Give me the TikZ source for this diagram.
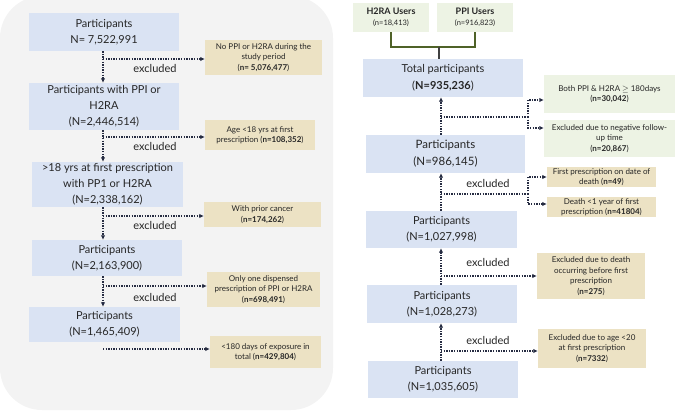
\documentclass[tikz,border=0pt]{standalone}
\usepackage{fontspec}
\setmainfont{Lato}
\usetikzlibrary{arrows.meta,positioning}
\definecolor{azulcaja}{RGB}{218,227,243}
\definecolor{tancaja}{RGB}{236,226,196}
\definecolor{verdecaja}{RGB}{237,243,228}
\definecolor{grispanel}{RGB}{243,243,243}
\definecolor{azulosc}{RGB}{38,44,66}
\definecolor{texto}{RGB}{38,38,38}
\definecolor{verdeosc}{RGB}{79,98,40}
\definecolor{grisosc}{RGB}{64,64,64}
\begin{document}
\begin{tikzpicture}
[x=1pt,y=-1pt,
 caja/.style={fill=azulcaja,text=texto,align=center,inner sep=0pt,font=\fontsize{11}{16}\selectfont},
 excl/.style={fill=tancaja,text=texto,align=center,inner sep=0pt,font=\fontsize{8}{10.5}\selectfont},
 exclv/.style={excl,fill=verdecaja},
 usuarios/.style={exclv,font=\fontsize{7.5}{11}\selectfont},
 etiq/.style={text=texto,inner sep=0pt,font=\fontsize{11}{13}\selectfont},
 flecha/.style={draw=azulosc,line width=1.4pt,dash pattern=on 1.4pt off 1.2pt,-{Latex[length=4.5pt,width=4.5pt]}},
 linea/.style={flecha,-},
 llave/.style={draw=verdeosc,line width=1.6pt}]
\useasboundingbox (0,0) rectangle (676,412);
\fill[grispanel,rounded corners=42pt] (0,-4) rectangle (333,410);
% left column
\node (izq1) [caja,minimum width=150,minimum height=38] at (104,32) {Participants\\N= 7,522,991};
\node (izq2) [caja,minimum width=150,minimum height=47] at (104,106.5) {Participants with PPI or\\H2RA\\(N=2,446,514)};
\node (izq3) [caja,minimum width=151,minimum height=45] at (107.5,184.5) {>18 yrs at first prescription\\with PP1 or H2RA\\(N=2,338,162)};
\node (izq4) [caja,minimum width=150,minimum height=36] at (107,258) {Participants\\(N=2,163,900)};
\node (izq5) [caja,minimum width=151,minimum height=35] at (104.5,324.5) {Participants\\(N=1,465,409)};
\node (exc1) [excl,minimum width=117,minimum height=35] at (263.5,57.5) {No PPI or H2RA during the\\study period\\(\textbf{n= 5,076,477})};
\node (exc2) [excl,minimum width=110,minimum height=30] at (260,135) {Age <18 yrs at first\\prescription (\textbf{n=108,352})};
\node (exc3) [excl,minimum width=117,minimum height=25] at (262.5,214.5) {With prior cancer\\(\textbf{n=174,262})};
\node (exc4) [excl,minimum width=113,minimum height=35] at (263.5,289.5) {Only one dispensed\\prescription of PPI or H2RA\\(\textbf{n=698,491})};
\node (exc5) [excl,minimum width=111,minimum height=32] at (265.5,352) {<180 days of exposure in\\total (\textbf{n=429,804})};
\node (lab1) [etiq] at (155,68) {excluded};
\node (lab2) [etiq] at (155,146) {excluded};
\node (lab3) [etiq] at (155,225) {excluded};
\node (lab4) [etiq] at (155,297) {excluded};
\coordinate (ejeI) at (103,0);
\coordinate (r1) at (103,59);
\coordinate (r2) at (103,137);
\coordinate (r3) at (103,216);
\coordinate (r4) at (103,286);
\coordinate (r5) at (103,349);
\draw[flecha] (izq1.south -| ejeI) -- (izq2.north -| ejeI);
\draw[flecha] (izq2.south -| ejeI) -- (izq3.north -| ejeI);
\draw[flecha] (izq3.south -| ejeI) -- (izq4.north -| ejeI);
\draw[flecha] (izq4.south -| ejeI) -- (izq5.north -| ejeI);
\draw[flecha] (r1) -- (r1 -| exc1.west);
\draw[flecha] (r2) -- (r2 -| exc2.west);
\draw[flecha] (r3) -- (r3 -| exc3.west);
\draw[flecha] (r4) -- (r4 -| exc4.west);
\draw[flecha] (r5) -- (r5 -| exc5.west);
% right column
\node (h2ra) [usuarios,minimum width=76,minimum height=29] at (391,17.5) {{\fontsize{9}{11}\selectfont\textbf{H2RA Users}}\\(n=18,413)};
\node (ppi) [usuarios,minimum width=76,minimum height=29] at (475,17.5) {{\fontsize{9}{11}\selectfont\textbf{PPI Users}}\\(n=916,823)};
\node (total) [caja,minimum width=160,minimum height=38,font=\fontsize{11}{17}\selectfont] at (443,78) {Total participants\\(\textbf{N=935,236})};
\node (der2) [caja,minimum width=159,minimum height=38,font=\fontsize{11.5}{17}\selectfont] at (445.5,154) {Participants\\(N=986,145)};
\node (der3) [caja,minimum width=151,minimum height=37] at (441.5,229.5) {Participants\\(N=1,027,998)};
\node (der4) [caja,minimum width=150,minimum height=38] at (442,304) {Participants\\(N=1,028,273)};
\node (der5) [caja,minimum width=150,minimum height=37] at (443,379.5) {Participants\\(N=1,035,605)};
\node (excd1) [exclv,minimum width=131,minimum height=38] at (609.5,94) {Both PPI \& H2RA $\geq$ 180days\\(\textbf{n=30,042})};
\node (excd2) [exclv,minimum width=131,minimum height=37] at (609.5,138.5) {Excluded due to negative follow-\\up time\\(\textbf{n=20,867})};
\node (excd3) [excl,minimum width=109,minimum height=20] at (601.5,177) {First prescription on date of\\death (\textbf{n=49})};
\node (excd4) [excl,minimum width=109,minimum height=20] at (601.5,207) {Death <1 year of first\\prescription (\textbf{n=41804})};
\node (excd5) [excl,minimum width=108,minimum height=46] at (591,276) {Excluded due to death\\occurring before first\\prescription\\(\textbf{n=275})};
\node (excd6) [excl,minimum width=108,minimum height=39] at (592,348.5) {Excluded due to age <20\\at first prescription\\(\textbf{n=7332})};
\node (lab5) [etiq] at (488,183) {excluded};
\node (lab6) [etiq] at (488,262) {excluded};
\node (lab7) [etiq] at (488,340) {excluded};
\draw[llave] (h2ra.south) -- ++(0,15) -| (ppi.south);
\coordinate (union) at (439,47);
\draw[draw=grisosc,line width=1.6pt] (union) -- (union |- total.north);
\coordinate (ejeD) at (441,0);
\coordinate (rd1) at (441,117);
\coordinate (bd1) at (528,117);
\coordinate (rd2) at (441,194);
\coordinate (bd2) at (528,194);
\coordinate (rd3) at (441,276);
\coordinate (rd4) at (441,351);
\draw[flecha] (der2.north -| ejeD) -- (total.south -| ejeD);
\draw[flecha] (der3.north -| ejeD) -- (der2.south -| ejeD);
\draw[flecha] (der4.north -| ejeD) -- (der3.south -| ejeD);
\draw[flecha] (der5.north -| ejeD) -- (der4.south -| ejeD);
\draw[linea] (rd1) -- (bd1);
\draw[flecha] (bd1) |- ([yshift=-6pt]excd1.west);
\draw[flecha] (bd1) |- ([yshift=10.5pt]excd2.west);
\draw[linea] (rd2) -- (bd2);
\draw[flecha] (bd2) |- (excd3.west);
\draw[flecha] (bd2) |- ([yshift=3pt]excd4.west);
\draw[flecha] (rd3) -- (rd3 -| excd5.west);
\draw[flecha] (rd4) -- (rd4 -| excd6.west);
\end{tikzpicture}
\end{document}
